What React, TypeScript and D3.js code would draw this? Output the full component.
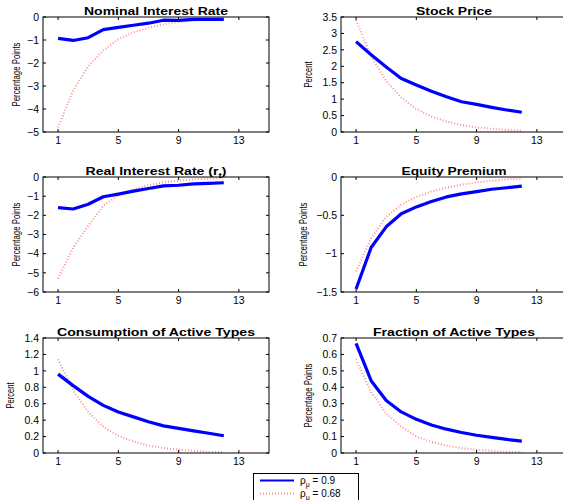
import React from 'react';
import * as d3 from 'd3';

const periods = [1, 2, 3, 4, 5, 6, 7, 8, 9, 10, 11, 12];
const xTickValues = [1, 5, 9, 13];
const seriesLabels = ['0.9', '0.68'];

const nominalHigh = [-0.93, -1.02, -0.9, -0.55, -0.45, -0.36, -0.27, -0.14, -0.15, -0.1, -0.1, -0.1];
const nominalLow = [-4.8, -3.2, -2.15, -1.45, -0.97, -0.67, -0.47, -0.32, -0.22, -0.15, -0.1, -0.07];

const stockHigh = [2.75, 2.35, 1.98, 1.63, 1.43, 1.24, 1.07, 0.92, 0.84, 0.75, 0.67, 0.6];
const stockLow = [3.4, 2.3, 1.55, 1.05, 0.7, 0.47, 0.32, 0.21, 0.14, 0.1, 0.06, 0.04];

const realHigh = [-1.6, -1.67, -1.42, -1.03, -0.89, -0.74, -0.6, -0.46, -0.43, -0.36, -0.33, -0.3];
const realLow = [-5.3, -3.7, -2.55, -1.5, -0.95, -0.65, -0.42, -0.28, -0.19, -0.12, -0.08, -0.05];

const equityHigh = [-1.46, -0.92, -0.65, -0.48, -0.39, -0.32, -0.26, -0.22, -0.19, -0.16, -0.14, -0.12];
const equityLow = [-1.23, -0.8, -0.52, -0.36, -0.26, -0.19, -0.14, -0.1, -0.07, -0.05, -0.03, -0.02];

const consHigh = [0.96, 0.82, 0.69, 0.58, 0.5, 0.44, 0.38, 0.33, 0.3, 0.27, 0.24, 0.21];
const consLow = [1.14, 0.76, 0.5, 0.32, 0.21, 0.14, 0.09, 0.06, 0.04, 0.025, 0.015, 0.01];

const fracHigh = [0.667, 0.44, 0.32, 0.25, 0.205, 0.17, 0.145, 0.125, 0.108, 0.095, 0.083, 0.072];
const fracLow = [0.57, 0.37, 0.24, 0.16, 0.1, 0.068, 0.045, 0.03, 0.02, 0.013, 0.008, 0.005];

const nominalTicks = [-5, -4, -3, -2, -1, 0];
const stockTicks = [0, 0.5, 1, 1.5, 2, 2.5, 3, 3.5];
const realTicks = [-6, -5, -4, -3, -2, -1, 0];
const equityTicks = [-1.5, -1, -0.5, 0];
const consTicks = [0, 0.2, 0.4, 0.6, 0.8, 1, 1.2, 1.4];
const fracTicks = [0, 0.1, 0.2, 0.3, 0.4, 0.5, 0.6, 0.7];

type Panel = {
  title: string;
  sub?: string;
  titleW: number;
  yLabel: string;
  yTicks: number[];
  high: number[];
  low: number[];
  col: number;
  row: number;
};

const panels: Panel[] = [
  { title: 'Nominal Interest Rate', titleW: 144, yLabel: 'Percentage Points', yTicks: nominalTicks, high: nominalHigh, low: nominalLow, col: 0, row: 0 },
  { title: 'Stock Price', titleW: 76, yLabel: 'Percent', yTicks: stockTicks, high: stockHigh, low: stockLow, col: 1, row: 0 },
  { title: 'Real Interest Rate (r', sub: 't', titleW: 141, yLabel: 'Percentage Points', yTicks: realTicks, high: realHigh, low: realLow, col: 0, row: 1 },
  { title: 'Equity Premium', titleW: 105, yLabel: 'Percentage Points', yTicks: equityTicks, high: equityHigh, low: equityLow, col: 1, row: 1 },
  { title: 'Consumption of Active Types', titleW: 198, yLabel: 'Percent', yTicks: consTicks, high: consHigh, low: consLow, col: 0, row: 2 },
  { title: 'Fraction of Active Types', titleW: 162, yLabel: 'Percentage Points', yTicks: fracTicks, high: fracHigh, low: fracLow, col: 1, row: 2 },
];

const colLeft = [43, 341];
const rowTop = [17, 177, 338];
const PW = 226;
const PH = 115;
const FONT = '"Liberation Sans", Arial, Helvetica, sans-serif';
const BLUE = '#0000ff';
const RED = '#ff3030';

const fmt = (v: number) => {
  const s = String(Math.abs(v));
  return v < 0 ? '\u2212' + s : s;
};

function PanelView({ p }: { p: Panel }) {
  const left = colLeft[p.col];
  const top = rowTop[p.row];
  const x = d3.scaleLinear().domain([0, 15]).range([left, left + PW]);
  const ext = d3.extent(p.yTicks) as [number, number];
  const y = d3.scaleLinear().domain(ext).range([top + PH, top]);
  const line = d3
    .line<number>()
    .x((_, i) => x(periods[i]))
    .y((d) => y(d));
  const maxChars = d3.max(p.yTicks, (t) => fmt(t).length) as number;
  const labelX = left - (16 + 5.4 * maxChars);
  const labelLen = p.yLabel === 'Percent' ? 26 : 64;
  const tk = 3;
  return (
    <g>
      <path d={line(p.low) || ''} fill="none" stroke={RED} strokeWidth={2} strokeDasharray="0.9 2.1" opacity={0.6} />
      <path d={line(p.high) || ''} fill="none" stroke={BLUE} strokeWidth={3.2} strokeLinejoin="round" />
      <rect x={left} y={top} width={PW} height={PH} fill="none" stroke="#000" strokeWidth={1} />
      {xTickValues.map((t) => (
        <g key={'x' + t}>
          <line x1={x(t)} x2={x(t)} y1={top + PH} y2={top + PH - tk} stroke="#000" />
          <line x1={x(t)} x2={x(t)} y1={top} y2={top + tk} stroke="#000" />
          <text x={x(t)} y={top + PH + 12} textAnchor="middle" fontSize={10.5} fontFamily={FONT}>
            {t}
          </text>
        </g>
      ))}
      {p.yTicks.map((t) => (
        <g key={'y' + t}>
          <line x1={left} x2={left + tk} y1={y(t)} y2={y(t)} stroke="#000" />
          <line x1={left + PW} x2={left + PW - tk} y1={y(t)} y2={y(t)} stroke="#000" />
          <text x={left - 4} y={y(t)} dy="0.35em" textAnchor="end" fontSize={10.5} fontFamily={FONT}>
            {fmt(t)}
          </text>
        </g>
      ))}
      <text
        transform={`translate(${labelX},${top + PH / 2}) rotate(-90)`}
        textAnchor="middle"
        dy="0.35em"
        fontSize={10.5}
        fontFamily={FONT}
        textLength={labelLen}
        lengthAdjust="spacingAndGlyphs"
      >
        {p.yLabel}
      </text>
      <text
        x={left + PW / 2}
        y={top - 2}
        textAnchor="middle"
        fontSize={11.5}
        fontWeight="bold"
        fontFamily={FONT}
        textLength={p.titleW}
        lengthAdjust="spacingAndGlyphs"
      >
        {p.title}
        {p.sub ? (
          <>
            <tspan fontSize={8} dy={3}>{p.sub}</tspan>
            <tspan dy={-3}>)</tspan>
          </>
        ) : null}
      </text>
    </g>
  );
}

export default function App() {
  return (
    <svg
      width={563}
      height={500}
      style={{ position: 'absolute', left: 0, top: 0, background: '#fff', display: 'block' }}
    >
      <rect x={0} y={0} width={563} height={500} fill="#fff" />
      {panels.map((p, i) => (
        <PanelView key={i} p={p} />
      ))}
      <g>
        <rect x={253.5} y={473.5} width={105} height={40} fill="#fff" stroke="#000" strokeWidth={1} />
        <line x1={260} x2={294} y1={480.5} y2={480.5} stroke={BLUE} strokeWidth={2} />
        <line x1={260} x2={294} y1={493.5} y2={493.5} stroke={RED} strokeWidth={2} strokeDasharray="0.9 2.1" opacity={0.6} />
        {seriesLabels.map((s, i) => (
          <text key={s} x={300} y={484 + i * 13} fontSize={10} fontFamily={FONT}>
            ρ<tspan fontSize={7} dy={2.5}>μ</tspan>
            <tspan dy={-2.5}>{' = ' + s}</tspan>
          </text>
        ))}
      </g>
    </svg>
  );
}
